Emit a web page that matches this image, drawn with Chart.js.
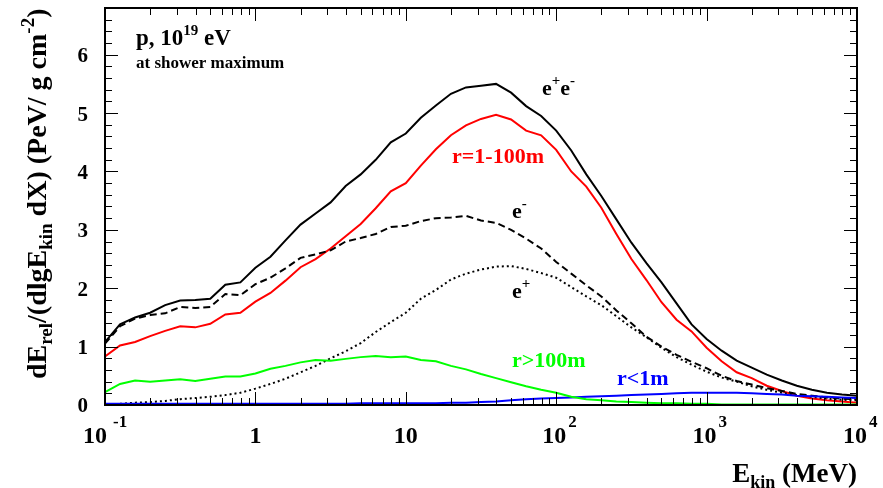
<!DOCTYPE html>
<html>
<head>
<meta charset="utf-8">
<script src="https://cdn.jsdelivr.net/npm/chart.js@4/dist/chart.umd.min.js"></script>
<style>
    html, body { margin: 0; padding: 0; background: #fff; }
    #wrap { width: 883px; height: 488px; }
</style>
</head>
<body>
<div id="wrap"><canvas id="energy-chart" width="883" height="488"></canvas></div>
<script>
// lg(E_kin / MeV) grid the curves were read on
const lgE = [-1.0, -0.9, -0.8, -0.7, -0.6, -0.5, -0.4, -0.3, -0.2, -0.1,
    0.0, 0.1, 0.2, 0.3, 0.4, 0.5, 0.6, 0.7, 0.8, 0.9,
    1.0, 1.1, 1.2, 1.3, 1.4, 1.5, 1.6, 1.7, 1.8, 1.9,
    2.0, 2.1, 2.2, 2.3, 2.4, 2.5, 2.6, 2.7, 2.8, 2.9,
    3.0, 3.1, 3.2, 3.3, 3.4, 3.5, 3.6, 3.7, 3.8, 3.9, 4.0];

const allEE = [1.08, 1.38, 1.50, 1.58, 1.71, 1.79, 1.80, 1.82, 2.06, 2.10,
    2.35, 2.54, 2.82, 3.09, 3.28, 3.47, 3.75, 3.95, 4.20, 4.50,
    4.65, 4.92, 5.13, 5.33, 5.44, 5.47, 5.50, 5.35, 5.12, 4.95,
    4.70, 4.36, 3.95, 3.58, 3.18, 2.78, 2.43, 2.10, 1.74, 1.38,
    1.13, 0.93, 0.76, 0.64, 0.52, 0.42, 0.33, 0.26, 0.21, 0.18, 0.16];

const ring1to100 = [0.83, 1.02, 1.08, 1.18, 1.27, 1.35, 1.33, 1.39, 1.55, 1.58,
    1.77, 1.92, 2.13, 2.36, 2.50, 2.68, 2.89, 3.10, 3.37, 3.66,
    3.80, 4.10, 4.38, 4.62, 4.79, 4.90, 4.97, 4.89, 4.70, 4.62,
    4.37, 4.00, 3.74, 3.38, 2.93, 2.50, 2.14, 1.76, 1.46, 1.26,
    0.98, 0.75, 0.56, 0.46, 0.33, 0.24, 0.16, 0.11, 0.08, 0.06, 0.04];

const electrons = [1.05, 1.35, 1.48, 1.54, 1.57, 1.68, 1.66, 1.68, 1.90, 1.88,
    2.07, 2.18, 2.34, 2.52, 2.58, 2.65, 2.80, 2.86, 2.93, 3.05,
    3.07, 3.15, 3.20, 3.21, 3.24, 3.16, 3.12, 3.00, 2.85, 2.68,
    2.45, 2.25, 2.05, 1.86, 1.62, 1.40, 1.17, 1.00, 0.86, 0.74,
    0.63, 0.50, 0.41, 0.35, 0.29, 0.24, 0.19, 0.16, 0.13, 0.11, 0.10];

const positrons = [0.01, 0.02, 0.04, 0.05, 0.07, 0.10, 0.12, 0.14, 0.17, 0.21,
    0.28, 0.36, 0.45, 0.56, 0.67, 0.80, 0.92, 1.06, 1.25, 1.42,
    1.58, 1.82, 1.97, 2.15, 2.25, 2.32, 2.37, 2.38, 2.33, 2.26,
    2.18, 2.02, 1.86, 1.71, 1.52, 1.33, 1.16, 0.98, 0.82, 0.69,
    0.57, 0.47, 0.40, 0.32, 0.26, 0.21, 0.17, 0.14, 0.11, 0.09, 0.08];

const ringOuter = [0.22, 0.36, 0.42, 0.40, 0.42, 0.44, 0.41, 0.45, 0.49, 0.49,
    0.54, 0.62, 0.67, 0.73, 0.77, 0.76, 0.79, 0.82, 0.84, 0.82,
    0.83, 0.77, 0.75, 0.67, 0.61, 0.53, 0.46, 0.39, 0.32, 0.26,
    0.21, 0.14, 0.10, 0.08, 0.06, 0.05, 0.04, 0.03, 0.03, 0.02,
    0.02, 0.01, 0.01, 0.01, 0.01, 0.01, 0.01, 0.01, 0.01, 0.01, 0.01];

const ringInner = [0.02, 0.02, 0.02, 0.02, 0.02, 0.02, 0.02, 0.02, 0.02, 0.02,
    0.02, 0.02, 0.02, 0.02, 0.02, 0.02, 0.02, 0.03, 0.03, 0.03,
    0.03, 0.03, 0.03, 0.04, 0.04, 0.05, 0.06, 0.08, 0.10, 0.11,
    0.12, 0.13, 0.14, 0.15, 0.16, 0.17, 0.18, 0.19, 0.20, 0.21,
    0.21, 0.21, 0.21, 0.20, 0.19, 0.18, 0.16, 0.15, 0.14, 0.13, 0.12];

const xDecades = [-1, 0, 1, 2, 3, 4];
const yTicks = [0, 1, 2, 3, 4, 5, 6];

const FONT = '"Liberation Serif", "Times New Roman", serif';

function toPoints(ys) {
    return lgE.map((x, i) => ({ x: x, y: ys[i] }));
}

function drawRich(ctx, parts, x, y) {
    let cx = x;
    parts.forEach(([text, size, shift]) => {
        ctx.font = `bold ${size}px ${FONT}`;
        ctx.fillText(text, cx, y + shift);
        cx += ctx.measureText(text).width;
    });
    return cx - x;
}

function richWidth(ctx, parts) {
    let w = 0;
    parts.forEach(([text, size]) => {
        ctx.font = `bold ${size}px ${FONT}`;
        w += ctx.measureText(text).width;
    });
    return w;
}

const framePlugin = {
    id: 'rootFrame',
    afterDraw(chart) {
        const ctx = chart.ctx;
        const area = chart.chartArea;
        const xs = chart.scales.x;
        const ys = chart.scales.y;
        ctx.save();
        ctx.strokeStyle = '#000';
        ctx.fillStyle = '#000';

        // ticks on all four sides, pointing inwards
        ctx.lineWidth = 1;
        ctx.beginPath();
        for (let v = 0; v <= 6.8001; v += 0.2) {
            const py = Math.round(ys.getPixelForValue(v)) + 0.5;
            const major = Math.abs(v - Math.round(v)) < 1e-6;
            const len = major ? 13 : 7;
            ctx.moveTo(area.left, py); ctx.lineTo(area.left + len, py);
            ctx.moveTo(area.right, py); ctx.lineTo(area.right - len, py);
        }
        for (let n = -1; n <= 4; n++) {
            for (let k = 1; k <= 9; k++) {
                const v = n + Math.log10(k);
                if (v > 4.0001) break;
                const px = Math.round(xs.getPixelForValue(v)) + 0.5;
                const len = k === 1 ? 13 : 7;
                ctx.moveTo(px, area.bottom); ctx.lineTo(px, area.bottom - len);
                ctx.moveTo(px, area.top); ctx.lineTo(px, area.top + len);
            }
        }
        ctx.stroke();

        ctx.lineWidth = 2;
        ctx.strokeRect(area.left, area.top, area.right - area.left, area.bottom - area.top);

        // y tick labels
        ctx.font = `bold 21px ${FONT}`;
        ctx.textAlign = 'right';
        ctx.textBaseline = 'middle';
        yTicks.forEach(v => {
            ctx.fillText(String(v), area.left - 17, ys.getPixelForValue(v) + 2);
        });

        // x tick labels, ROOT style 10^n
        ctx.textBaseline = 'alphabetic';
        ctx.textAlign = 'left';
        xDecades.forEach(n => {
            const px = xs.getPixelForValue(n);
            const base = 443;
            if (n === 0 || n === 1) {
                ctx.font = `bold 24px ${FONT}`;
                const t = n === 0 ? '1' : '10';
                ctx.fillText(t, px - ctx.measureText(t).width / 2, base);
            } else {
                const left = n === -1 ? px - 22 : px - 14;
                const w = drawRich(ctx, [['10', 24, 0]], left, base);
                drawRich(ctx, [[String(n), 17, 0]], left + w + (n === -1 ? 6 : 2), base - 16);
            }
        });

        // axis titles
        const xTitle = [['E', 27, 0], ['kin', 18, 6], [' (MeV)', 27, 0]];
        drawRich(ctx, xTitle, area.right - richWidth(ctx, xTitle), 482);

        const yTitle = [['dE', 28, 0], ['rel', 19, 6], ['/(dlgE', 28, 0], ['kin', 19, 6],
            [' dX) (PeV/ g cm', 28, 0], ['-2', 19, -12], [')', 28, 0]];
        ctx.save();
        ctx.translate(46, 379);
        ctx.rotate(-Math.PI / 2);
        drawRich(ctx, yTitle, 0, 0);
        ctx.restore();

        // annotations
        drawRich(ctx, [['p, 10', 23, 0], ['19', 15, -10], [' eV', 23, 0]], 136, 45);
        drawRich(ctx, [['at shower maximum', 17, 0]], 136, 68);
        drawRich(ctx, [['e', 22, 0], ['+', 15, -10], ['e', 22, 0], ['-', 15, -10]], 542, 95);
        drawRich(ctx, [['e', 22, 0], ['-', 15, -10]], 512, 218);
        drawRich(ctx, [['e', 22, 0], ['+', 15, -10]], 512, 298);
        ctx.fillStyle = '#ff0000';
        drawRich(ctx, [['r=1-100m', 22, 0]], 452, 163);
        ctx.fillStyle = '#00ff00';
        drawRich(ctx, [['r>100m', 22, 0]], 512, 367);
        ctx.fillStyle = '#0000ff';
        drawRich(ctx, [['r<1m', 22, 0]], 617, 385);
        ctx.restore();
    }
};

const ctx = document.getElementById('energy-chart').getContext('2d');
const energyChart = new Chart(ctx, {
    type: 'line',
    data: {
        datasets: [
            { label: 'r>100m', data: toPoints(ringOuter), borderColor: '#00ff00' },
            { label: 'r<1m', data: toPoints(ringInner), borderColor: '#0000ff' },
            { label: 'e+', data: toPoints(positrons), borderColor: '#000', borderDash: [2, 3] },
            { label: 'e-', data: toPoints(electrons), borderColor: '#000', borderDash: [7, 4] },
            { label: 'r=1-100m', data: toPoints(ring1to100), borderColor: '#ff0000' },
            { label: 'e+e-', data: toPoints(allEE), borderColor: '#000' }
        ]
    },
    options: {
        responsive: false,
        animation: false,
        parsing: false,
        layout: { padding: { left: 105, right: 26, top: 8, bottom: 83 } },
        elements: {
            line: { borderWidth: 2, tension: 0, fill: false },
            point: { radius: 0 }
        },
        scales: {
            x: { type: 'linear', min: -1, max: 4, display: false },
            y: { type: 'linear', min: 0, max: 6.8, display: false }
        },
        plugins: {
            legend: { display: false },
            tooltip: { enabled: false }
        }
    },
    plugins: [framePlugin]
});
</script>
</body>
</html>
